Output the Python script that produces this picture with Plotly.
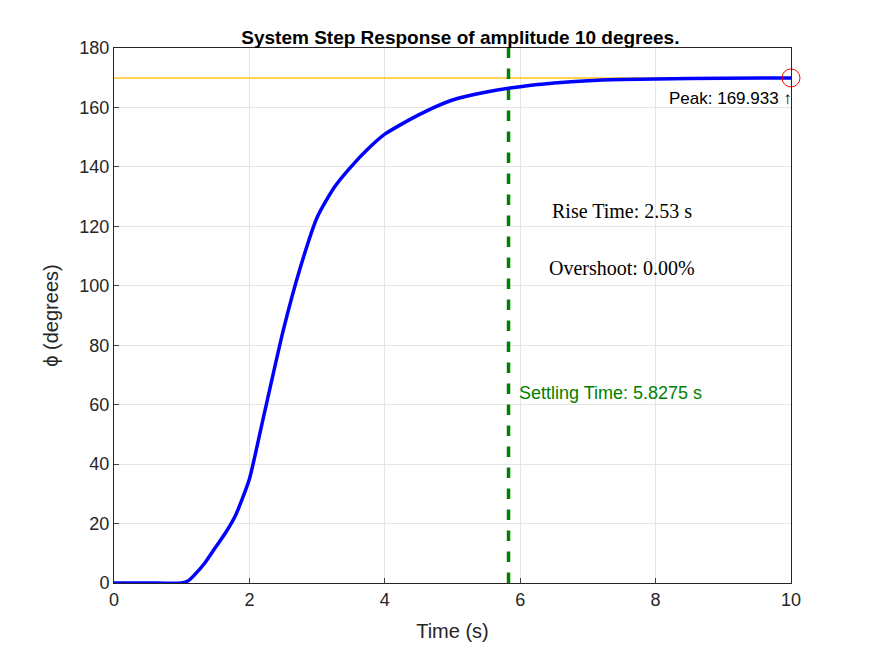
import plotly.graph_objects as go

# step response
t = [0, 0.5, 1.0, 1.1, 1.2, 1.35, 1.5, 1.65, 1.8, 2.0, 2.2, 2.5, 2.75, 3.0, 3.25, 3.5,
     3.75, 4.0, 4.5, 5.0, 5.5, 6.0, 6.5, 7.0, 7.5, 8.0, 9.0, 10.0]
phi = [0, 0, 0, 0.8, 3, 7, 12, 17, 23, 35, 55, 85, 106, 123, 133, 140,
       146, 151, 157.5, 162.5, 165.2, 167, 168.2, 169, 169.4, 169.6, 169.85, 169.933]
peak = 169.933
settling = 5.8275

fig = go.Figure()
fig.add_trace(go.Scatter(x=[0, 10], y=[peak, peak], mode="lines",
                         line=dict(color="#FFC61E", width=1.5), showlegend=False))
fig.add_trace(go.Scatter(x=[settling, settling], y=[0, 180], mode="lines",
                         line=dict(color="#008000", width=3.5, dash="dash"), showlegend=False))
fig.add_trace(go.Scatter(x=t, y=phi, mode="lines",
                         line=dict(color="#0000FF", width=3.5, shape="spline", smoothing=0.6),
                         showlegend=False))
fig.add_trace(go.Scatter(x=[10], y=[peak], mode="markers", cliponaxis=False,
                         marker=dict(symbol="circle-open", size=18, color="red", line=dict(width=1)),
                         showlegend=False))

fig.add_annotation(x=9.1, y=163, text="Peak: 169.933 ↑", showarrow=False,
                   font=dict(family="Liberation Sans", size=17, color="black"))
fig.add_annotation(x=7.5, y=125, text="Rise Time: 2.53 s", showarrow=False,
                   font=dict(family="Liberation Serif", size=20, color="black"))
fig.add_annotation(x=7.5, y=106, text="Overshoot: 0.00%", showarrow=False,
                   font=dict(family="Liberation Serif", size=20, color="black"))
fig.add_annotation(x=5.95, y=64, text="Settling Time: 5.8275 s", showarrow=False, xanchor="left",
                   font=dict(family="Liberation Sans", size=18, color="#008000"))

axis = dict(showline=True, mirror=True, linecolor="#262626", linewidth=1,
            gridcolor="#E5E5E5", zeroline=False, ticks="inside", ticklen=5,
            tickfont=dict(size=18, color="#262626"))
fig.update_layout(
    width=875, height=656, paper_bgcolor="white", plot_bgcolor="white",
    margin=dict(l=106, r=92, t=40, b=81),
    font=dict(family="Liberation Sans", color="#262626"),
    title=dict(text="<b>System Step Response of amplitude 10 degrees.</b>", x=0.517, y=0.965,
               xanchor="center", font=dict(size=19, color="black")),
    xaxis=dict(range=[0, 10], dtick=2, title=dict(text="Time (s)", font=dict(size=20)), **axis),
    yaxis=dict(range=[0, 180], dtick=20, title=dict(text="ϕ (degrees)", font=dict(size=20)), **axis),
)
fig.write_html("out.html")
